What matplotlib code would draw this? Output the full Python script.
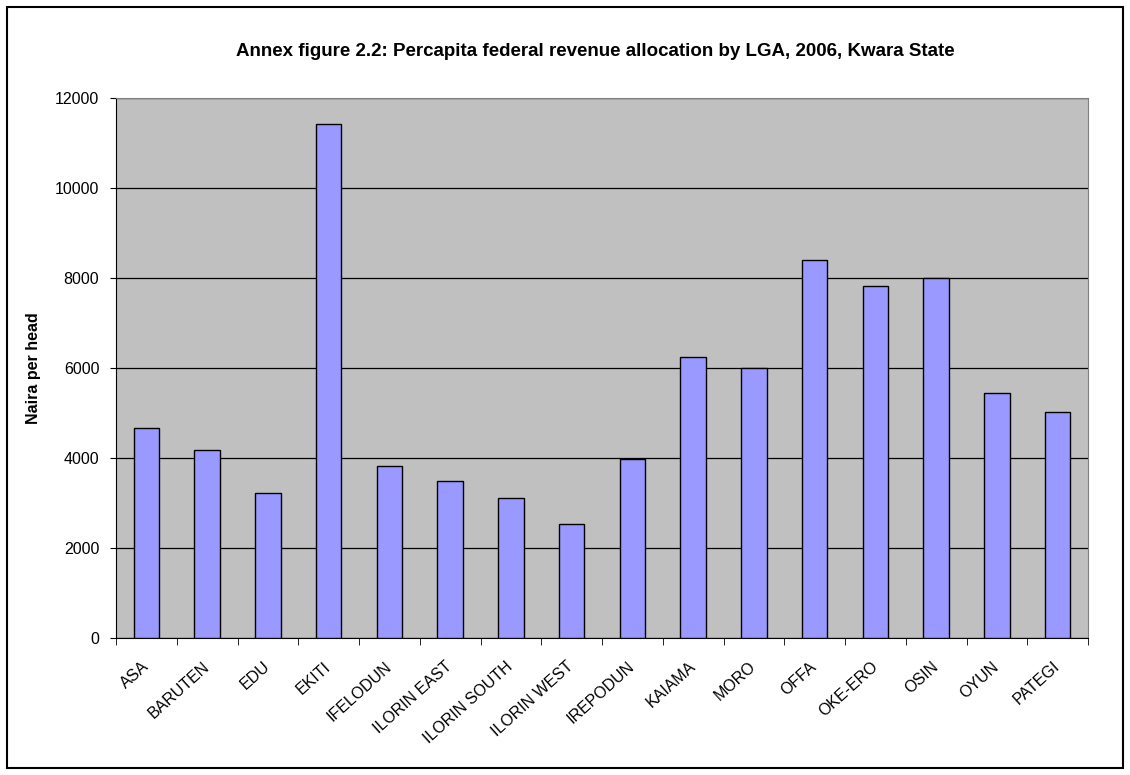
import numpy as np
import matplotlib.pyplot as plt
import matplotlib.transforms as mtransforms
from matplotlib.patches import Rectangle

plt.rcParams['font.family'] = ['Liberation Sans', 'DejaVu Sans']

lgas = ['ASA', 'BARUTEN', 'EDU', 'EKITI', 'IFELODUN', 'ILORIN EAST', 'ILORIN SOUTH',
        'ILORIN WEST', 'IREPODUN', 'KAIAMA', 'MORO', 'OFFA', 'OKE-ERO', 'OSIN',
        'OYUN', 'PATEGI']
naira_per_head = [4660, 4180, 3230, 11420, 3830, 3490, 3120, 2540, 3970, 6250,
                  6000, 8390, 7830, 7990, 5450, 5020]
yticks = [0, 2000, 4000, 6000, 8000, 10000, 12000]

fig = plt.figure(figsize=(11.3, 7.75), dpi=100)
ax = fig.add_axes([116/1130, 1 - 638/775, 972/1130, 540/775])

# outer chart border
fig.patches.append(Rectangle((7/1130, 7/775), 1116/1130, 761/775, transform=fig.transFigure,
                             fill=False, edgecolor='black', linewidth=1.5))

x = np.arange(len(lgas))
ax.set_facecolor('#C0C0C0')
ax.bar(x, naira_per_head, width=0.42, color='#9999FF', edgecolor='black', linewidth=1, zorder=3)

ax.set_xlim(-0.5, len(lgas) - 0.5)
ax.set_ylim(0, 12000)
ax.set_yticks(yticks)
ax.set_yticklabels([str(v) for v in yticks], fontsize=11.5)
ax.yaxis.grid(True, color='black', linewidth=0.9, zorder=1)
ax.set_axisbelow(True)

ax.set_xticks(x)
ax.set_xticklabels(lgas, rotation=42, ha='right', rotation_mode='anchor', fontsize=11.5)
ax.tick_params(axis='x', length=0, pad=15)
# nudge labels left, like the original
shift = mtransforms.ScaledTranslation(-5/100, 0, fig.dpi_scale_trans)
for lab in ax.get_xticklabels():
    lab.set_transform(lab.get_transform() + shift)
ax.set_xticks(np.arange(-0.5, len(lgas)), minor=True)
ax.tick_params(axis='x', which='minor', length=5, color='black')
ax.tick_params(axis='y', length=4, color='black', pad=8)

for side in ['top', 'right']:
    ax.spines[side].set_color('#808080')
for side in ['left', 'bottom']:
    ax.spines[side].set_color('black')

ax.set_ylabel('Naira per head', fontsize=11.5, fontweight='bold', labelpad=10)
fig.text(595/1130, 1 - 52/775, 'Annex figure 2.2: Percapita federal revenue allocation by LGA, 2006, Kwara State',
         ha='center', va='center', fontsize=13.5, fontweight='bold')

plt.savefig('out.png')
